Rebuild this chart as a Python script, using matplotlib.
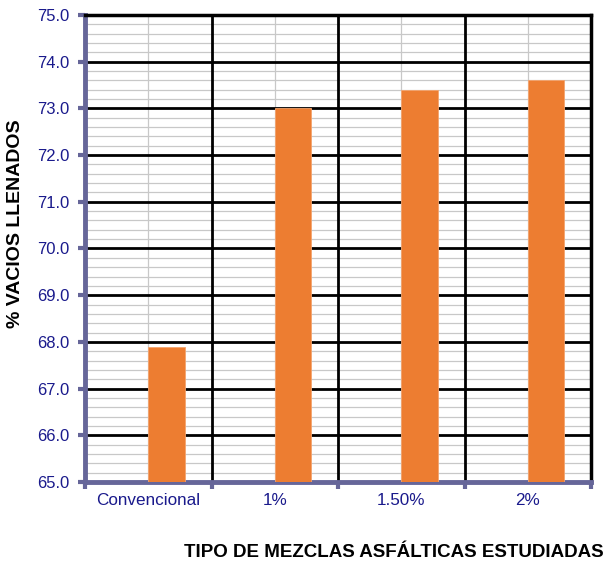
import matplotlib

matplotlib.use("Agg")
import matplotlib.pyplot as plt
import numpy as np

categories = ["Convencional", "1%", "1.50%", "2%"]
vacios_llenados = [67.9, 73.0, 73.4, 73.6]
y_ticks = [65.0, 66.0, 67.0, 68.0, 69.0, 70.0, 71.0, 72.0, 73.0, 74.0, 75.0]

plt.rcParams["font.family"] = ["Liberation Sans", "DejaVu Sans"]

axis_blue = "#666699"
label_blue = "#1a1a8c"
bar_orange = "#ed7d31"
minor_gray = "#c8c8c8"

fig = plt.figure(figsize=(6.05, 5.63), dpi=100)
ax = fig.add_axes([0.1405, 0.1439, 0.8364, 0.8295])

x = np.arange(len(categories))
bar_w = 0.29
ax.bar(x, vacios_llenados, width=bar_w, align="edge", color=bar_orange,
       edgecolor="#f4a46e", linewidth=0.6, zorder=3)

ax.set_ylim(65, 75)
ax.set_xlim(-0.5, len(categories) - 0.5)

# light gray lines: minor y every 0.2 and vertical at category centres
for v in np.arange(65.2, 75.0, 0.2):
    ax.axhline(v, color=minor_gray, linewidth=0.9, zorder=0.5)
for c in x:
    ax.axvline(c, color=minor_gray, linewidth=0.9, zorder=0.6)

# black lines: major y values and boundaries between categories
for v in y_ticks[1:-1]:
    ax.axhline(v, color="black", linewidth=2.0, zorder=1)
for b in np.arange(0.5, len(categories) - 0.5, 1.0):
    ax.axvline(b, color="black", linewidth=2.0, zorder=1)

ax.set_yticks(y_ticks)
ax.set_yticklabels([f"{v:.1f}" for v in y_ticks])

ax.set_xticks(np.arange(-0.5, len(categories)))
ax.set_xticklabels([])
ax.set_xticks(x, minor=True)
ax.set_xticklabels(categories, minor=True)
ax.tick_params(axis="x", which="minor", length=0, pad=8,
               labelsize=12.3, labelcolor=label_blue)
ax.tick_params(axis="x", which="major", length=5, width=3, color=axis_blue,
               direction="out")
ax.tick_params(axis="y", which="major", length=5, width=3, color=axis_blue,
               direction="out", labelsize=12, labelcolor=label_blue, pad=6)

for side in ("left", "bottom"):
    ax.spines[side].set_color(axis_blue)
    ax.spines[side].set_linewidth(3.5)
for side in ("top", "right"):
    ax.spines[side].set_color("black")
    ax.spines[side].set_linewidth(2.5)

fig.text(0.026, 0.602, "% VACIOS LLENADOS", rotation=90, ha="center",
         va="center", fontsize=14, fontweight="bold")
fig.text(0.997, 0.018, "TIPO DE MEZCLAS ASFÁLTICAS ESTUDIADAS", ha="right",
         va="center", fontsize=13.5, fontweight="bold")

fig.savefig("out.png", dpi=100)
